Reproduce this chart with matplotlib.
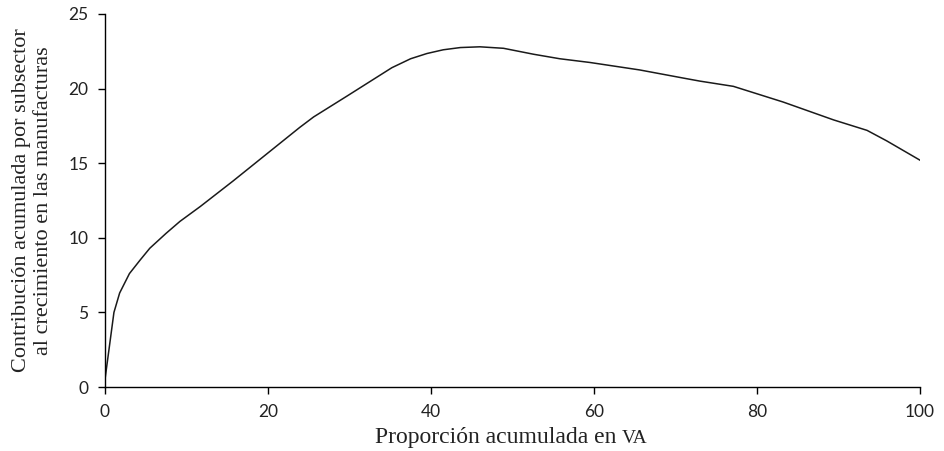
import matplotlib
matplotlib.use("Agg")
import matplotlib.pyplot as plt

# Cumulative share of value added (x) vs cumulative contribution to growth (y)
share_va = [0, 1.1, 1.8, 3.0, 4.3, 5.5, 7.5, 9.2, 11.7, 15.7, 19.8, 23.9, 25.6,
            29.7, 35.2, 37.5, 39.5, 41.5, 43.6, 46.0, 48.9, 52.6, 55.8, 59.5,
            65.6, 71.0, 73.0, 77.1, 83.2, 89.4, 93.5, 95.9, 100]
contribution = [0.5, 5.0, 6.3, 7.6, 8.5, 9.3, 10.3, 11.1, 12.1, 13.8, 15.6, 17.4, 18.1,
                19.5, 21.4, 22.0, 22.35, 22.6, 22.75, 22.8, 22.7, 22.3, 22.0, 21.75,
                21.25, 20.7, 20.5, 20.15, 19.1, 17.9, 17.2, 16.5, 15.2]

x_ticks = [0, 20, 40, 60, 80, 100]
y_ticks = [0, 5, 10, 15, 20, 25]

label_font = "Liberation Serif"
tick_font = "Lato"

fig = plt.figure(figsize=(9.44, 4.51), dpi=100)
ax = fig.add_axes([0.1112, 0.1419, 0.8634, 0.8271])

ax.plot(share_va, contribution, color="#1a1a1a", linewidth=1.1)

ax.set_xlim(0, 100)
ax.set_ylim(0, 25)
ax.set_xticks(x_ticks)
ax.set_yticks(y_ticks)

for side in ["top", "right"]:
    ax.spines[side].set_visible(False)
for side in ["left", "bottom"]:
    ax.spines[side].set_linewidth(1.0)

ax.tick_params(direction="out", length=5, width=1.0, labelsize=12.5, pad=7)
for lbl in ax.get_xticklabels() + ax.get_yticklabels():
    lbl.set_fontfamily(tick_font)
    lbl.set_color("#222222")

# x label, with "VA" set smaller like small caps on the same baseline
first = ax.text(0.331, -0.15, "Proporción acumulada en ", transform=ax.transAxes,
                ha="left", va="baseline", fontfamily=label_font, fontsize=17,
                color="#222222")
fig.canvas.draw()
bb = first.get_window_extent()
x_end = ax.transAxes.inverted().transform((bb.x1, 0))[0]
ax.text(x_end, -0.15, "VA", transform=ax.transAxes, ha="left", va="baseline",
        fontfamily=label_font, fontsize=14, color="#222222")

ax.set_ylabel("Contribución acumulada por subsector\nal crecimiento en las manufacturas",
              fontfamily=label_font, fontsize=16, linespacing=1.18, labelpad=11,
              color="#222222")

fig.savefig("out.png", dpi=100)
